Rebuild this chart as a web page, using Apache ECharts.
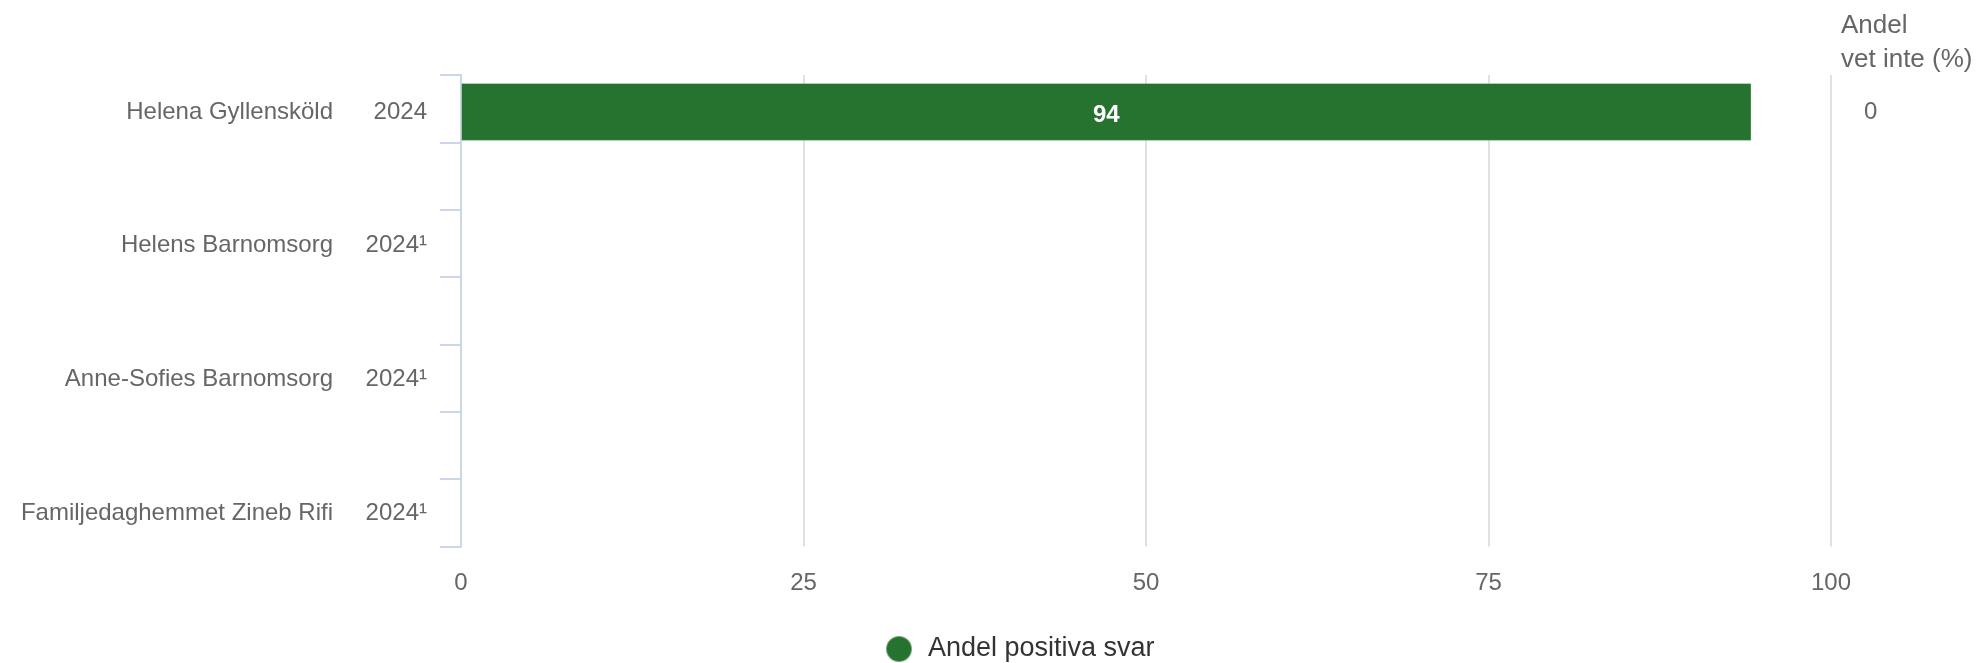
<!DOCTYPE html>
<html>
<head>
<meta charset="utf-8">
<script src="https://cdn.jsdelivr.net/npm/echarts@6/dist/echarts.min.js"></script>
<style>
html,body{margin:0;padding:0;background:#fff;}
#chart{width:1979px;height:663px;}
</style>
</head>
<body>
<div id="chart"></div>
<script>
// ---- data ----
const categories = ['Helena Gyllensköld', 'Helens Barnomsorg', 'Anne-Sofies Barnomsorg', 'Familjedaghemmet Zineb Rifi'];
const years = ['2024', '2024¹', '2024¹', '2024¹'];
const positiva = [94.2, null, null, null];
const vetInte = [0, null, null, null];
const xTicks = [0, 25, 50, 75, 100];
const seriesName = 'Andel positiva svar';
const headerText = 'Andel\nvet inte (%)';

const FONT = '"Liberation Sans", Arial, Helvetica, sans-serif';
const chart = echarts.init(document.getElementById('chart'));

chart.setOption({
  animation: false,
  textStyle: { fontFamily: FONT },
  title: {
    text: headerText,
    left: 1836, top: 4,
    textStyle: { fontFamily: FONT, fontSize: 26, fontWeight: 'normal', color: '#666666', lineHeight: 34 }
  },
  legend: {
    data: [seriesName],
    icon: 'circle',
    left: 880, top: 630,
    itemWidth: 26, itemHeight: 26,
    textStyle: { fontFamily: FONT, fontSize: 27, color: '#333333', padding: [0, 0, 0, 11] }
  },
  grid: [
    { left: 461, right: 148, top: 45, height: 535 },
    { left: 461, right: 148, top: 75, height: 471.5 }
  ],
  xAxis: [
    { gridIndex: 0, type: 'value', min: xTicks[0], max: xTicks[xTicks.length - 1], show: false },
    {
      gridIndex: 1, type: 'value', min: xTicks[0], max: xTicks[xTicks.length - 1], interval: 25,
      axisLine: { show: false }, axisTick: { show: false },
      splitLine: { show: true, lineStyle: { color: '#e0e0e0', width: 2 } },
      axisLabel: { color: '#666666', fontSize: 24, margin: 25, fontFamily: FONT }
    }
  ],
  yAxis: [
    {
      gridIndex: 0, type: 'category', data: categories, inverse: true,
      axisLine: { show: false }, axisTick: { show: false }, splitLine: { show: false },
      axisLabel: {
        margin: 34, fontFamily: FONT,
        formatter: function (val, idx) { return '{n|' + val + '}{y|' + years[idx] + '}'; },
        rich: {
          n: { fontSize: 24, color: '#666666', fontFamily: FONT },
          y: { fontSize: 24, color: '#666666', fontFamily: FONT, width: 94, align: 'right' }
        }
      }
    },
    {
      gridIndex: 0, type: 'category', position: 'right', inverse: true,
      data: vetInte.map(v => v === null ? '' : String(v)),
      axisLine: { show: false }, axisTick: { show: false }, splitLine: { show: false },
      axisLabel: { align: 'left', margin: 33, fontSize: 24, color: '#666666', fontFamily: FONT }
    },
    {
      gridIndex: 1, type: 'value', min: 0, max: 7, interval: 1, inverse: true,
      axisLine: { show: true, lineStyle: { color: '#ccd6eb', width: 2 } },
      axisTick: { show: true, length: 21, lineStyle: { color: '#ccd6eb', width: 2 } },
      axisLabel: { show: false }, splitLine: { show: false }
    }
  ],
  series: [
    {
      name: seriesName, type: 'bar',
      xAxisIndex: 0, yAxisIndex: 0,
      data: positiva,
      barWidth: 58,
      itemStyle: { color: '#267330', borderColor: 'rgba(255,255,255,0.35)', borderWidth: 1 },
      label: {
        show: true, position: 'inside', offset: [0, 3], color: '#ffffff', fontWeight: 'bold', fontSize: 24, fontFamily: FONT,
        formatter: function (p) { return Math.round(p.value); }
      },
      z: 3
    }
  ]
});
</script>
</body>
</html>
